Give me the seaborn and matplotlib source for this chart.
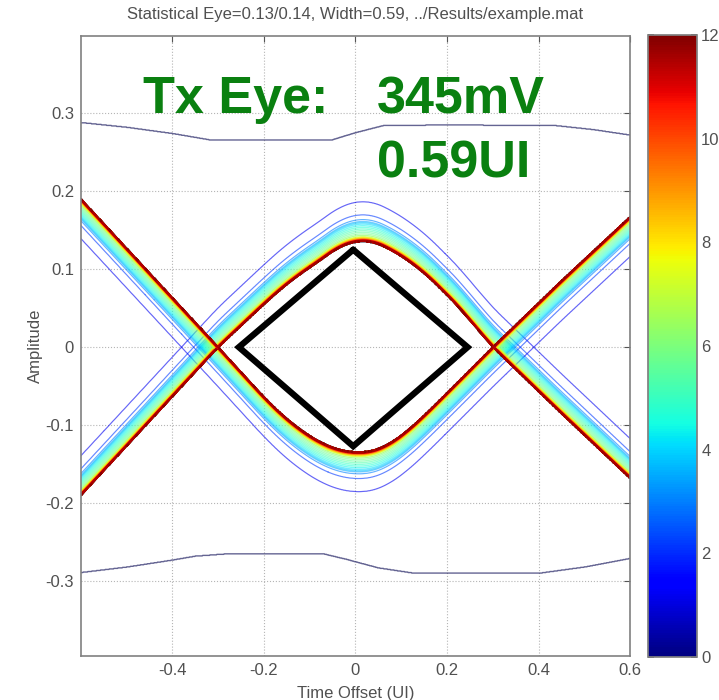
import numpy as np
import matplotlib
matplotlib.use('Agg')
import matplotlib.pyplot as plt
import seaborn as sns
import pandas as pd
from matplotlib.colors import Normalize
from matplotlib.cm import ScalarMappable

# inner (eye-side) edge of the upper and lower trajectories
upper_x = [-0.6, -0.45, -0.3, -0.2, -0.16, -0.12, -0.08, -0.04, 0.0, 0.04, 0.08, 0.12, 0.16, 0.22, 0.3, 0.45, 0.6]
upper_y = [-0.19, -0.095, 0.0, 0.055, 0.076, 0.094, 0.11, 0.127, 0.136, 0.135, 0.124, 0.109, 0.09, 0.055, 0.0, -0.085, -0.168]
lower_x = [-0.6, -0.45, -0.3, -0.2, -0.16, -0.12, -0.08, -0.04, 0.0, 0.04, 0.08, 0.12, 0.16, 0.22, 0.3, 0.45, 0.6]
lower_y = [0.19, 0.095, 0.0, -0.064, -0.087, -0.106, -0.121, -0.131, -0.135, -0.133, -0.122, -0.104, -0.082, -0.047, 0.0, 0.085, 0.167]

# how the contour value falls off going outward from that edge
band_offset = [0.0, 0.002, 0.004, 0.006, 0.009, 0.023, 0.028, 0.034, 0.051, 0.058]
band_value = [12.0, 10.5, 8.5, 7.0, 6.0, 4.0, 3.0, 2.2, 1.2, 0.0]

# outermost contour (top / bottom envelope)
env_top_x = [-0.6, -0.5, -0.4, -0.32, -0.05, 0.0, 0.06, 0.2, 0.44, 0.52, 0.6]
env_top_y = [0.288, 0.282, 0.274, 0.266, 0.266, 0.275, 0.284, 0.285, 0.284, 0.279, 0.272]
env_bot_x = [-0.6, -0.5, -0.4, -0.35, -0.28, -0.07, -0.02, 0.05, 0.13, 0.4, 0.5, 0.6]
env_bot_y = [-0.289, -0.282, -0.273, -0.268, -0.265, -0.265, -0.272, -0.283, -0.29, -0.29, -0.282, -0.271]

# eye mask drawn on top
diamond_x = [-0.005, 0.245, -0.005, -0.255, -0.005]
diamond_y = [0.125, 0.0, -0.127, 0.0, 0.125]

env_levels = [0.5]
outline_levels = [1.2, 2.2, 3.0]
cyan_levels = [3.5, 3.8, 4.1, 4.4, 4.7, 5.0, 5.3, 5.6, 5.9]
warm_levels = [6.4, 7.0, 7.6, 8.2, 8.8, 9.4, 10.0, 10.6]
red_levels = [11.0, 11.5, 11.9]

x_ticks = [-0.4, -0.2, 0, 0.2, 0.4, 0.6]
x_ticklabels = ['-0.4', '-0.2', '0', '0.2', '0.4', '0.6']
y_ticks = [-0.3, -0.2, -0.1, 0, 0.1, 0.2, 0.3]
y_ticklabels = ['-0.3', '-0.2', '-0.1', '0', '0.1', '0.2', '0.3']
cbar_ticks = [0, 2, 4, 6, 8, 10, 12]

sns.set_theme(style="white")
plt.rcParams['font.family'] = ['Liberation Sans', 'DejaVu Sans']

fig = plt.figure(figsize=(7.19, 7.0), dpi=100)
ax = fig.add_axes([81/719, 1-656/700, 549/719, 620/700])
cax = fig.add_axes([648/719, 1-657/700, 49/719, 622/700])


def smooth_edge(xs, px, py, win=41):
    # rounds off the corners between the read points
    e = np.interp(xs, px, py)
    h = win // 2
    e = np.pad(e, h, mode='reflect', reflect_type='odd')
    return np.convolve(e, np.ones(win) / win, mode='valid')


xs = np.linspace(-0.6, 0.6, 1201)
ys = np.linspace(-0.4, 0.4, 1201)
X, Y = np.meshgrid(xs, ys)
up = smooth_edge(xs, upper_x, upper_y)[None, :]
lo = smooth_edge(xs, lower_x, lower_y)[None, :]
d_up = Y - up
d_lo = lo - Y
z_up = np.where(d_up >= 0, np.interp(d_up, band_offset, band_value), 0.0)
z_lo = np.where(d_lo >= 0, np.interp(d_lo, band_offset, band_value), 0.0)
top = np.interp(xs, env_top_x, env_top_y)[None, :]
bot = np.interp(xs, env_bot_x, env_bot_y)[None, :]
z_env = np.where((Y < top) & (Y > bot), 1.0, 0.0)

norm = Normalize(0, 12)
ax.grid(True, linestyle=':', color='#b5b5b5', lw=0.8)
ax.set_axisbelow(True)

ax.contour(X, Y, z_env, levels=env_levels, colors='#30306e', alpha=0.75, linewidths=1.0)
groups = [(outline_levels, 0.85, 0.6), (cyan_levels, 1.0, 0.55),
          (warm_levels, 0.9, 0.7), (red_levels, 1.5, 1.0)]
for lv, lw, a in groups:
    for z in (z_up, z_lo):
        ax.contour(X, Y, z, levels=lv, cmap='jet', norm=norm, linewidths=lw, alpha=a)

df = pd.DataFrame({'x': diamond_x, 'y': diamond_y})
sns.lineplot(data=df, x='x', y='y', sort=False, estimator=None, color='black', lw=4.5, ax=ax)
ax.lines[-1].set_solid_joinstyle('miter')

ax.set_xlim(-0.6, 0.6)
ax.set_ylim(-0.396, 0.399)
ax.set_xticks(x_ticks)
ax.set_xticklabels(x_ticklabels)
ax.set_yticks(y_ticks)
ax.set_yticklabels(y_ticklabels)
ax.tick_params(direction='in', top=True, right=True, length=4, width=0.8,
               color='#555555', labelcolor='#505050', labelsize=12, pad=5)
for s in ax.spines.values():
    s.set_color('#808080')
    s.set_linewidth(1.2)
ax.set_xlabel('Time Offset (UI)', fontsize=12, color='#505050', labelpad=6)
ax.set_ylabel('Amplitude', fontsize=12, color='#505050', labelpad=2)
ax.set_title('Statistical Eye=0.13/0.14, Width=0.59, ../Results/example.mat',
             fontsize=12, color='#505050', pad=12)

sm = ScalarMappable(norm=norm, cmap='jet')
cb = fig.colorbar(sm, cax=cax, ticks=cbar_ticks)
cb.ax.tick_params(direction='in', length=4, left=True, right=True, color='#333333',
                  labelcolor='#505050', labelsize=12, pad=3)
cb.outline.set_edgecolor('#808080')

green = '#0a8010'
fig.text(143/719, 1-113/700, 'Tx Eye:', fontsize=37.5, fontweight='bold', color=green, va='baseline')
fig.text(377/719, 1-113/700, '345mV', fontsize=37.5, fontweight='bold', color=green, va='baseline')
fig.text(377/719, 1-177/700, '0.59UI', fontsize=37.5, fontweight='bold', color=green, va='baseline')

fig.savefig('out.png', dpi=100)
